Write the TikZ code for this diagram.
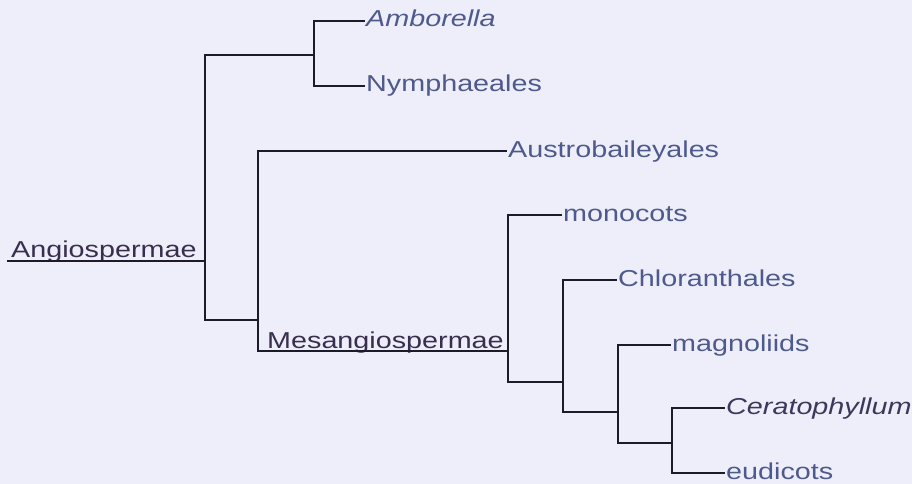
\documentclass[tikz,border=0pt]{standalone}
\usepackage{fontspec}
\newfontfamily\lab[FakeStretch=1.25]{Liberation Sans}
\definecolor{bg}{HTML}{EEEEFA}
\definecolor{leafc}{HTML}{4E5A8C}
\definecolor{cladec}{HTML}{3A2E4E}
\definecolor{linec}{HTML}{1C1C28}
\tikzset{
  branch/.style={draw=linec, line width=2pt},
  leaf/.style={anchor=west, inner xsep=1pt, inner ysep=0pt, text height=16pt, text depth=4pt, font=\fontsize{23}{24}\lab, text=leafc},
  clade/.style={anchor=base west, inner sep=0pt, font=\fontsize{23}{24}\lab, text=cladec}
}
\begin{document}
\begin{tikzpicture}[x=1pt,y=-1pt]
\fill[bg] (0,0) rectangle (912,484);
\useasboundingbox (0,0) rectangle (912,484);
% junction coordinates
\coordinate (root) at (7,261);
\coordinate (A) at (205,261);
\coordinate (B) at (314,55);
\coordinate (C) at (258,320);
\coordinate (Cm) at (258,351);
\coordinate (D) at (508,351);
\coordinate (E) at (563,382);
\coordinate (F) at (618,412);
\coordinate (G) at (672,443);
% leaves
\node[leaf, font=\fontsize{23}{24}\lab\itshape] (amb) at (365,21) {Amborella};
\node[leaf] (nym) at (365,86) {Nymphaeales};
\node[leaf] (aus) at (507,151) {Austrobaileyales};
\node[leaf] (mon) at (562,215) {monocots};
\node[leaf] (chl) at (617,280) {Chloranthales};
\node[leaf] (mag) at (671,345) {magnoliids};
\node[leaf, font=\fontsize{23}{24}\lab\itshape, text=cladec!80!leafc] (cer) at (725,408) {Ceratophyllum};
\node[leaf] (eud) at (725,473) {eudicots};
% clade labels
\node[clade] (angio) at (11,257) {Angiospermae};
\node[clade] (mesa) at (267,348) {Mesangiospermae};
% branches
\draw[branch] (root) -- (A);
\draw[branch] (A) |- (B);
\draw[branch] (A) |- (C);
\draw[branch] (B) |- (amb.west);
\draw[branch] (B) |- (nym.west);
\draw[branch] (C) |- (aus.west);
\draw[branch] (C) -- (Cm) -- (D);
\draw[branch] (D) |- (mon.west);
\draw[branch] (D) |- (E);
\draw[branch] (E) |- (chl.west);
\draw[branch] (E) |- (F);
\draw[branch] (F) |- (mag.west);
\draw[branch] (F) |- (G);
\draw[branch] (G) |- (cer.west);
\draw[branch] (G) |- (eud.west);
\end{tikzpicture}
\end{document}
